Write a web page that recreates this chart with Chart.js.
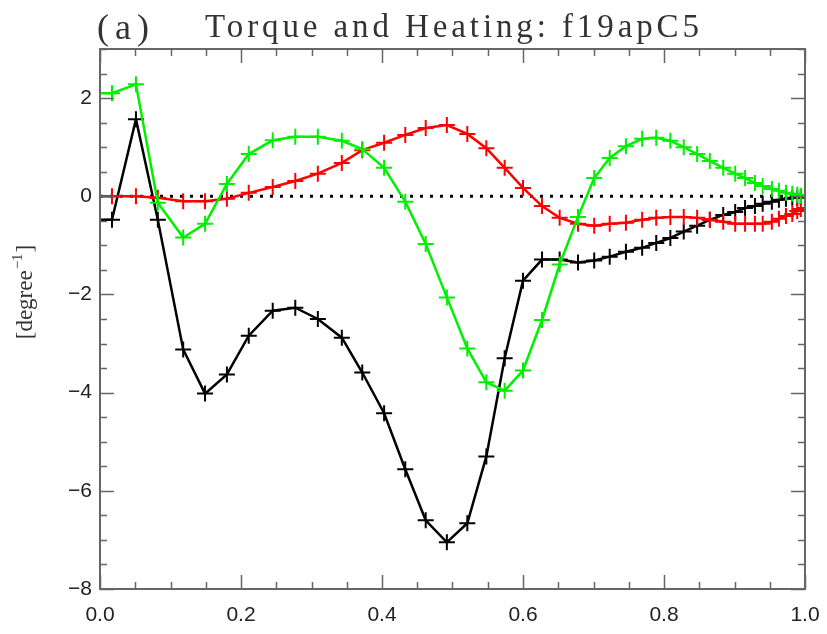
<!DOCTYPE html>
<html>
<head>
    <title>Torque and Heating: f19apC5</title>
    <script src="https://cdn.jsdelivr.net/npm/chart.js"></script>
    <style>
        body { margin: 0; background: #fff; }
    </style>
</head>
<body>
    <canvas id="torqueChart" width="827" height="634"></canvas>
    <script>
        // radial grid (cell centres, first entry is the inner edge)
        const xs = [0, 0.017, 0.051, 0.082, 0.118, 0.149, 0.180, 0.211, 0.245, 0.277,
                    0.309, 0.343, 0.372, 0.403, 0.433, 0.462, 0.492, 0.521, 0.548, 0.574,
                    0.600, 0.627, 0.652, 0.678, 0.701, 0.723, 0.746, 0.769, 0.789, 0.809,
                    0.828, 0.847, 0.865, 0.884, 0.901, 0.915, 0.929, 0.940, 0.953, 0.963,
                    0.973, 0.982, 0.989, 0.994, 1.0];

        const blackSeries = [-0.48, -0.48, 1.57, -0.48, -3.12, -4.02, -3.63, -2.84, -2.33, -2.27,
                             -2.5, -2.88, -3.59, -4.42, -5.56, -6.6, -7.05, -6.66, -5.3, -3.3,
                             -1.72, -1.29, -1.29, -1.35, -1.31, -1.23, -1.13, -1.05, -0.95, -0.85,
                             -0.72, -0.6, -0.48, -0.38, -0.32, -0.24, -0.2, -0.15, -0.11, -0.07,
                             -0.05, -0.03, -0.03, -0.01, -0.01];

        const redSeries = [0.0, 0.0, 0.0, -0.03, -0.1, -0.1, -0.05, 0.07, 0.19, 0.31,
                           0.46, 0.68, 0.94, 1.09, 1.25, 1.39, 1.45, 1.27, 0.98, 0.58,
                           0.17, -0.2, -0.44, -0.56, -0.6, -0.56, -0.54, -0.48, -0.44, -0.42,
                           -0.42, -0.44, -0.48, -0.52, -0.56, -0.56, -0.56, -0.56, -0.52, -0.46,
                           -0.4, -0.36, -0.3, -0.26, -0.24];

        const greenSeries = [2.1, 2.1, 2.28, -0.13, -0.84, -0.56, 0.25, 0.86, 1.14, 1.21,
                             1.21, 1.13, 0.96, 0.58, -0.11, -0.97, -2.06, -3.1, -3.79, -3.96,
                             -3.55, -2.52, -1.39, -0.42, 0.37, 0.78, 1.02, 1.17, 1.19, 1.13,
                             1.0, 0.86, 0.72, 0.58, 0.46, 0.37, 0.27, 0.21, 0.15, 0.11,
                             0.07, 0.05, 0.03, 0.01, 0.0];

        const xMajorTicks = [0, 0.2, 0.4, 0.6, 0.8, 1.0];
        const yMajorTicks = [-8, -6, -4, -2, 0, 2];
        const xMinorStep = 0.05;
        const yMinorStep = 0.5;

        const toPoints = vals => vals.map((v, i) => ({ x: xs[i], y: v }));
        // no marker on the inner-edge value
        const markerSizes = xs.map((x, i) => i === 0 ? 0 : 8);

        function series(vals, colour, order) {
            return {
                data: toPoints(vals),
                borderColor: colour,
                backgroundColor: colour,
                borderWidth: 2.5,
                pointStyle: 'cross',
                pointRadius: markerSizes,
                pointBorderWidth: 2,
                pointHoverRadius: markerSizes,
                tension: 0,
                order: order
            };
        }

        // spread a string so it fills a given width
        function spacedText(ctx, text, x, y, width) {
            ctx.letterSpacing = '0px';
            const w = ctx.measureText(text).width;
            ctx.letterSpacing = ((width - w) / (text.length - 1)) + 'px';
            ctx.fillText(text, x, y);
            ctx.letterSpacing = '0px';
        }

        // frame with IDL-style inward ticks, plus the titles
        const idlFrame = {
            id: 'idlFrame',
            afterDraw(chart) {
                const { ctx, chartArea: a, scales } = chart;
                const sx = scales.x, sy = scales.y;
                ctx.save();
                ctx.strokeStyle = '#666';
                ctx.lineWidth = 2;
                ctx.strokeRect(a.left, a.top, a.right - a.left, a.bottom - a.top);

                ctx.lineWidth = 1.5;
                ctx.beginPath();
                for (let v = 0; v <= 1.0001; v += xMinorStep) {
                    const major = xMajorTicks.some(t => Math.abs(t - v) < 1e-6);
                    const len = major ? 14 : 7;
                    const px = Math.round(sx.getPixelForValue(v)) + 0.5;
                    ctx.moveTo(px, a.bottom); ctx.lineTo(px, a.bottom - len);
                    ctx.moveTo(px, a.top); ctx.lineTo(px, a.top + len);
                }
                for (let v = -8; v <= 3.0001; v += yMinorStep) {
                    const major = yMajorTicks.some(t => Math.abs(t - v) < 1e-6);
                    const len = major ? 14 : 7;
                    const py = Math.round(sy.getPixelForValue(v)) + 0.5;
                    ctx.moveTo(a.left, py); ctx.lineTo(a.left + len, py);
                    ctx.moveTo(a.right, py); ctx.lineTo(a.right - len, py);
                }
                ctx.stroke();

                ctx.fillStyle = '#333';
                ctx.textBaseline = 'alphabetic';
                ctx.textAlign = 'left';
                ctx.font = '36px "Liberation Serif"';
                spacedText(ctx, '(a)', 97, 39, 52);
                ctx.font = '33px "Liberation Serif"';
                spacedText(ctx, 'Torque and Heating: f19apC5', 205, 37, 494);

                // rotated unit label with a real superscript
                ctx.translate(32, 292);
                ctx.rotate(-Math.PI / 2);
                ctx.font = '23px "Liberation Serif"';
                const base = '[degree';
                const wBase = ctx.measureText(base).width;
                ctx.font = '15px "Liberation Serif"';
                const sup = '\u22121';
                const wSup = ctx.measureText(sup).width;
                ctx.font = '23px "Liberation Serif"';
                const wEnd = ctx.measureText(']').width;
                let cx = -(wBase + wSup + wEnd + 2) / 2;
                ctx.fillText(base, cx, 0);
                cx += wBase + 1;
                ctx.font = '15px "Liberation Serif"';
                ctx.fillText(sup, cx, -10);
                cx += wSup + 1;
                ctx.font = '23px "Liberation Serif"';
                ctx.fillText(']', cx, 0);
                ctx.restore();
            }
        };

        const ctx = document.getElementById('torqueChart').getContext('2d');
        const torqueChart = new Chart(ctx, {
            type: 'line',
            data: {
                datasets: [
                    {
                        data: [{ x: 0, y: 0 }, { x: 1, y: 0 }],
                        borderColor: '#000',
                        borderWidth: 3,
                        borderDash: [3, 7],
                        pointRadius: 0,
                        order: 4
                    },
                    series(blackSeries, '#000000', 3),
                    series(redSeries, '#ff0000', 2),
                    series(greenSeries, '#00f000', 1)
                ]
            },
            options: {
                responsive: false,
                animation: false,
                layout: { padding: { top: 49, right: 22, left: 0, bottom: 0 } },
                plugins: {
                    legend: { display: false },
                    tooltip: { enabled: false }
                },
                scales: {
                    x: {
                        type: 'linear',
                        min: 0,
                        max: 1,
                        grid: { display: false, drawTicks: false },
                        border: { display: false },
                        ticks: {
                            stepSize: 0.2,
                            padding: 14,
                            color: '#222',
                            font: { family: 'Liberation Sans', size: 21 },
                            callback: v => v.toFixed(1)
                        },
                        afterFit: s => {
                            s.height = 45;
                            s.paddingLeft = 0;
                            s.paddingRight = 0;
                        }
                    },
                    y: {
                        min: -8,
                        max: 3,
                        grid: { display: false, drawTicks: false },
                        border: { display: false },
                        ticks: {
                            stepSize: 2,
                            includeBounds: false,
                            padding: 8,
                            color: '#222',
                            font: { family: 'Liberation Sans', size: 21 },
                            callback: v => (v < 0 ? '\u2212' + Math.abs(v) : String(v))
                        },
                        afterFit: s => {
                            s.width = 100;
                            s.paddingTop = 0;
                            s.paddingBottom = 0;
                        }
                    }
                }
            },
            plugins: [idlFrame]
        });
    </script>
</body>
</html>
